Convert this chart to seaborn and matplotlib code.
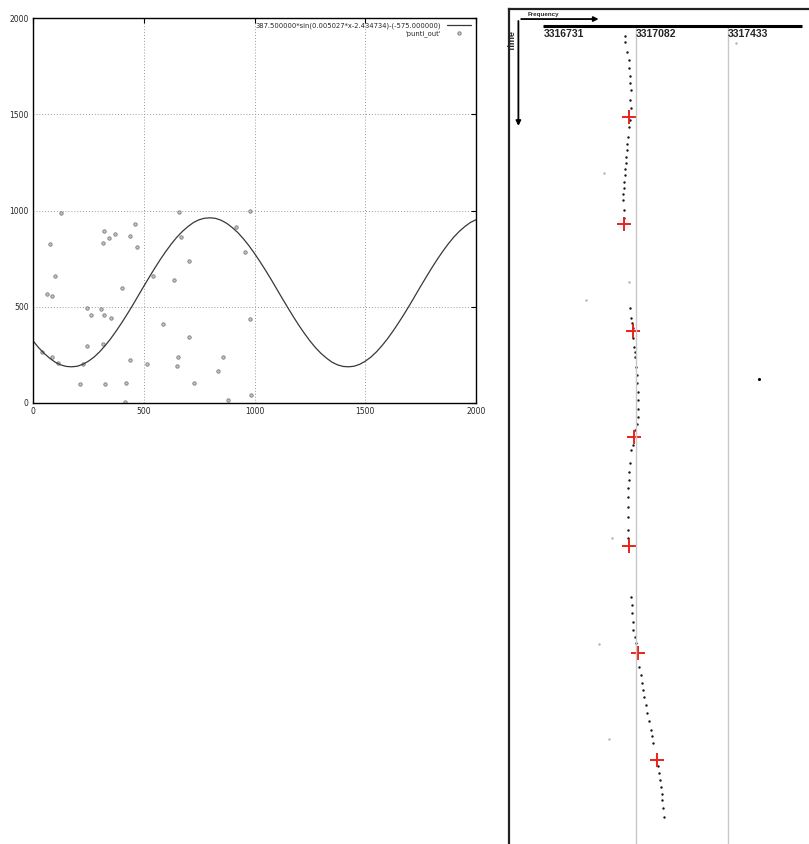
import matplotlib
matplotlib.use("Agg")
import matplotlib.pyplot as plt
import seaborn as sns

# ---- left panel: fitted sine + 'punti_out' points ----
fit_label = "387.500000*sin(0.005027*x-2.434734)-(-575.000000)"
curve_x = list(range(0, 2001, 25))
curve_y = [323, 288, 258, 233, 212, 198, 190, 188, 191, 201, 217, 238, 265, 297,
           333, 373, 416, 461, 508, 557, 606, 654, 701, 746, 788, 827, 862, 892,
           917, 938, 952, 960, 962, 959, 949, 933, 911, 885, 853, 817, 777, 734,
           689, 642, 593, 544, 496, 449, 404, 362, 323, 288, 258, 233, 212, 198,
           190, 188, 191, 201, 217, 238, 265, 297, 333, 373, 416, 461, 508, 557,
           606, 654, 701, 746, 788, 827, 862, 892, 917, 938, 952]

punti_x = [126, 76, 98, 65, 88, 39, 88, 115, 211, 227, 242, 242, 262, 306, 321,
           353, 318, 323, 321, 318, 342, 368, 402, 421, 414, 436, 436, 462, 468,
           514, 542, 588, 636, 659, 670, 705, 656, 652, 705, 727, 835, 859, 882,
           918, 959, 979, 979, 982]
punti_y = [986, 828, 659, 568, 554, 267, 240, 206, 98, 202, 493, 294, 455, 488, 455,
           439, 305, 98, 895, 829, 859, 880, 599, 106, 5, 221, 866, 929, 812,
           202, 659, 408, 638, 990, 864, 737, 237, 190, 341, 106, 166, 237, 16,
           916, 782, 436, 1000, 44]
axis_ticks = [0, 500, 1000, 1500, 2000]

# ---- right panel: frequency track over time ----
freq_ticks = [3316731, 3317082, 3317433]
track_f = [3317040, 3317040, 3317048, 3317054, 3317055, 3317058, 3317060, 3317062,
           3317059, 3317062, 3317058, 3317055, 3317051, 3317049, 3317046, 3317044,
           3317042, 3317040, 3317038, 3317036, 3317034, 3317033, 3317032, 3317034,
           3317036,
           3317059, 3317062, 3317066, 3317069, 3317071, 3317074, 3317076, 3317078,
           3317082, 3317084, 3317086, 3317089, 3317091, 3317090, 3317090, 3317085,
           3317078, 3317071, 3317063, 3317059, 3317056, 3317054, 3317052, 3317051,
           3317051, 3317051, 3317050, 3317051,
           3317063, 3317065, 3317067, 3317069, 3317071, 3317076, 3317082, 3317086,
           3317093, 3317099, 3317105, 3317109, 3317113, 3317118, 3317124, 3317131,
           3317139, 3317143, 3317147, 3317165, 3317170, 3317173, 3317176, 3317179,
           3317181, 3317185, 3317189]
track_t = [10, 16, 26, 34, 42, 50, 57, 64, 74, 82, 94, 101, 111, 118, 124, 131,
           137, 143, 149, 156, 162, 168, 174, 184, 192,
           282, 292, 297, 302, 312, 321, 326, 331, 341, 349, 357, 366, 374, 383,
           391, 398, 404, 419, 424, 437, 446, 454, 462, 471, 481, 491, 504, 512,
           571, 579, 587, 596, 604, 611, 617, 629, 641, 649, 657, 664, 671, 679,
           687, 695, 704, 710, 717, 740, 747, 754, 761, 768, 774, 782, 791]
peak_f = [3317056, 3317037, 3317069, 3317074, 3317054, 3317088, 3317161]
peak_t = [91, 198, 305, 411, 520, 627, 734]
stray_f = [3316960, 3317054, 3316891, 3316990, 3316941, 3316979, 3317462]
stray_t = [147, 256, 274, 512, 618, 713, 17]
odd_f = [3317551]
odd_t = [353]

sns.set_style("white")
plt.rcParams['font.family'] = ['DejaVu Sans']

fig = plt.figure(figsize=(8.09, 8.44), dpi=100)

# left plot
ax = fig.add_axes([33 / 809, 1 - 403 / 844, 443 / 809, 385 / 844])
sns.lineplot(x=curve_x, y=curve_y, ax=ax, color="#383838", lw=0.9, label=fit_label)
sns.scatterplot(x=punti_x, y=punti_y, ax=ax, marker="o", s=6, color="#c4c4c4",
                edgecolor="#7a7a7a", linewidth=0.6, label="'punti_out'")
ax.set_xlim(0, 2000)
ax.set_ylim(0, 2000)
ax.set_xticks(axis_ticks)
ax.set_yticks(axis_ticks)
ax.tick_params(direction="in", length=3.5, width=0.8, top=True, right=True,
               labelsize=5.5, pad=3, color="black")
ax.grid(True, linestyle=(0, (1, 2)), color="#9a9a9a", lw=0.7)
for s in ax.spines.values():
    s.set_color("black")
    s.set_linewidth(1)
leg = ax.legend(loc="upper right", markerfirst=False, frameon=False, fontsize=4.9,
                handlelength=3.6, borderaxespad=0.3, labelspacing=0.15, handletextpad=0.8)

# right plot
ax2 = fig.add_axes([509 / 809, -2 / 844, 303 / 809, 837 / 844])
ax2.set_xlim(3316597, 3317753)
ax2.set_ylim(820, -17)
ax2.set_xticks([])
ax2.set_yticks([])
for s in ax2.spines.values():
    s.set_color("#222222")
    s.set_linewidth(1.6)

ax2.vlines(freq_ticks[1:], 0, 820, color="#c8c8c8", lw=1)
ax2.hlines(0, 3316727, 3317715, color="black", lw=2.2)
for f in freq_ticks:
    ax2.text(f, 3, str(f), ha="left", va="top", fontsize=7.5, fontweight="bold",
             family="Liberation Sans")

sns.scatterplot(x=stray_f, y=stray_t, ax=ax2, s=3, color="#b0b0b0", linewidth=0)
sns.scatterplot(x=odd_f, y=odd_t, ax=ax2, s=5, color="black", linewidth=0)
sns.scatterplot(x=track_f, y=track_t, ax=ax2, s=3, color="#151515", linewidth=0)
sns.scatterplot(x=peak_f, y=peak_t, ax=ax2, marker="+", s=110, color="#e8231b",
                linewidth=1.4)

ax2.annotate("", xy=(0.305, 0.988), xytext=(0.031, 0.988), xycoords="axes fraction",
             arrowprops=dict(arrowstyle="-|>", color="black", lw=1.3, mutation_scale=7))
ax2.annotate("", xy=(0.031, 0.857), xytext=(0.031, 0.989), xycoords="axes fraction",
             arrowprops=dict(arrowstyle="-|>", color="black", lw=1.3, mutation_scale=7))
ax2.text(0.06, 0.991, "Frequency", transform=ax2.transAxes, fontsize=4.5,
         fontweight="bold", family="Liberation Sans", va="bottom")
ax2.text(0.012, 0.962, "Time", transform=ax2.transAxes, fontsize=6.5, rotation=90,
         fontweight="bold", family="Liberation Sans", va="center", ha="center")

fig.savefig("out.png", dpi=100)
